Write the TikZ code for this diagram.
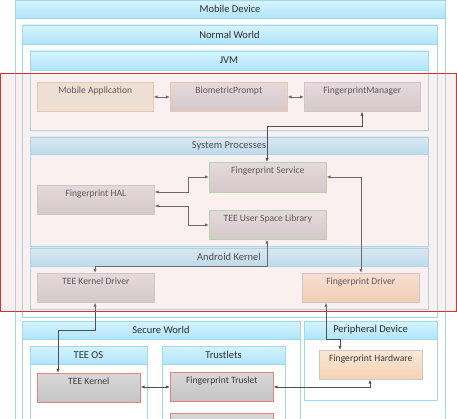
\documentclass[tikz,border=0pt]{standalone}
\usepackage{fontspec}
\setmainfont{Carlito}
\usetikzlibrary{arrows.meta,shadows}
\definecolor{cborder}{RGB}{160,216,240}
\definecolor{htop}{RGB}{214,244,254}
\definecolor{hbot}{RGB}{176,228,250}
\definecolor{htext}{RGB}{45,45,45}
\definecolor{btext}{RGB}{60,60,60}
\definecolor{gtop}{RGB}{228,226,228}
\definecolor{gbot}{RGB}{206,204,206}
\definecolor{ktop}{RGB}{216,216,216}
\definecolor{kbot}{RGB}{196,196,196}
\definecolor{ptop}{RGB}{252,232,214}
\definecolor{pbot}{RGB}{245,210,180}
\definecolor{beige}{RGB}{238,234,218}
\definecolor{pinkborder}{RGB}{228,130,130}
\definecolor{greenborder}{RGB}{170,215,170}
\definecolor{orangeborder}{RGB}{235,200,170}
\definecolor{grayborder}{RGB}{200,200,210}
\definecolor{ovfill}{RGB}{235,190,190}
\definecolor{ovdraw}{RGB}{215,50,50}
\definecolor{conn}{RGB}{80,80,80}
\tikzset{
  cont/.style={draw=cborder, fill=white, line width=0.6pt},
  hdr/.style={draw=cborder, top color=htop, bottom color=hbot, line width=0.6pt},
  htxt/.style={font=\fontsize{10.5}{12}\selectfont, text=htext, inner sep=0pt},
  boxbase/.style={anchor=north west, inner xsep=0pt, inner ysep=0pt, text height=11.5pt,
     font=\fontsize{9.6}{11}\selectfont, text=btext, line width=0.6pt,
     drop shadow={shadow xshift=1pt, shadow yshift=-1pt, opacity=0.25}},
  graybox/.style={boxbase, draw=grayborder, top color=gtop, bottom color=gbot},
  greenbox/.style={boxbase, draw=greenborder, top color=gtop, bottom color=gbot},
  kbox/.style={boxbase, draw=pinkborder, top color=ktop, bottom color=kbot},
  peachbox/.style={boxbase, draw=grayborder, top color=ptop, bottom color=pbot},
  beigebox/.style={boxbase, draw=orangeborder, fill=beige},
  obox/.style={boxbase, draw=orangeborder, top color=gtop, bottom color=gbot},
  biarrow/.style={conn, line width=0.8pt, {Latex[length=4pt,width=3.2pt]}-{Latex[length=4pt,width=3.2pt]}},
}
\newcommand{\container}[6]{%
  \draw[cont] (#1,#3) rectangle (#2,#4);
  \draw[hdr] (#1,#3) rectangle (#2,#5);
  \node[htxt] at ({(#1+#2)/2},{(#3+#5)/2}) {#6};
}
\begin{document}
\begin{tikzpicture}[x=1pt,y=-1pt]
\useasboundingbox (0,0) rectangle (457,419);
\fill[white] (0,0) rectangle (457,419);
% containers
\container{15}{445}{0.5}{430}{18}{Mobile Device}
\container{22}{437}{25}{317}{44}{Normal World}
\container{30}{428}{51}{130}{70}{JVM}
\container{30}{428}{137}{246}{154}{System Processes}
\container{30}{428}{248}{309}{266}{Android Kernel}
\container{22}{300}{321}{430}{339}{Secure World}
\container{304}{437}{321}{400}{339}{Peripheral Device}
\container{30}{147}{346}{430}{364}{TEE OS}
\container{162}{285}{346}{430}{364}{Trustlets}
% boxes
\node[beigebox, minimum width=116pt, text depth=17.5pt] (app) at (37,82) {Mobile Application};
\node[obox, minimum width=117pt, text depth=17.5pt] (bp) at (170,82) {BiometricPrompt};
\node[graybox, minimum width=116pt, text depth=17.5pt] (fm) at (304,82) {FingerprintManager};
\node[greenbox, minimum width=117pt, text depth=18.5pt] (fs) at (209,162) {Fingerprint Service};
\node[graybox, minimum width=117pt, text depth=17.5pt] (hal) at (37,185) {Fingerprint HAL};
\node[greenbox, minimum width=117pt, text depth=17.5pt] (tul) at (209,210) {TEE User Space Library};
\node[graybox, minimum width=117pt, text depth=17.5pt] (tkd) at (37,273) {TEE Kernel Driver};
\node[peachbox, minimum width=117pt, text depth=17.5pt] (fd) at (302,273) {Fingerprint Driver};
\node[kbox, minimum width=103pt, text depth=17.5pt] (tk) at (37,373) {TEE Kernel};
\node[kbox, minimum width=103pt, text depth=17.5pt] (ft) at (170,372) {Fingerprint Truslet};
\node[kbox, minimum width=103pt, text depth=17.5pt] (ft2) at (170,413) {};
\node[peachbox, minimum width=103pt, text depth=17.5pt] (fh) at (319,350) {Fingerprint Hardware};
% coordinates
\coordinate (c1) at (362,126);
\coordinate (c2) at (267,126);
% connectors
\draw[biarrow] (app.east |- 0,97) -- (bp.west |- 0,97);
\draw[biarrow] (bp.east |- 0,97) -- (fm.west |- 0,97);
\draw[biarrow] (hal.east |- 0,192) -| (188,177) -- (fs.west |- 0,177);
\draw[biarrow] (hal.east |- 0,206) -| (188,225) -- (tul.west |- 0,225);
\draw[biarrow] (fs.east |- 0,177) -| (fd.north -| 361,0);
\draw[biarrow] (tul.south -| 267,0) -- (267,266) -| (tkd.north -| 95,0);
\draw[biarrow] (tkd.south -| 95,0) -- (95,330) -| (tk.north -| 58,0);
\draw[biarrow] (fd.south -| 326,0) -- (326,339) -| (fh.north -| 340,0);
\draw[biarrow] (tk.east |- 0,387) -- (ft.west |- 0,387);
\draw[biarrow] (ft.east |- 0,387) -| (fh.south -| 370,0);
% overlay
\fill[ovfill, fill opacity=0.22] (0.5,73) rectangle (456.5,311);
\draw[ovdraw, line width=0.8pt] (0.5,73) rectangle (456.5,311);
\draw[biarrow] (fm.south -| 362,0) |- (c1) -- (c2) -- (fs.north -| 267,0);
\end{tikzpicture}
\end{document}
